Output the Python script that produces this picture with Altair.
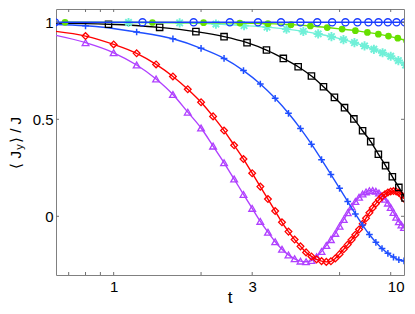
import altair as alt
import pandas as pd

# ---------------- data ----------------
# blue circles (t step ~ pi/5)
circ_t = [0.628, 1.257, 1.885, 2.513, 3.142, 3.770, 4.398, 5.027, 5.655, 6.283,
          6.912, 7.540, 8.168, 8.796, 9.425, 10.053]
circ_y = [1.000, 1.000, 1.000, 1.000, 1.000, 1.000, 1.000, 1.000, 1.000, 1.000,
          1.000, 1.000, 1.000, 1.000, 1.000, 1.000]

# green dots
dot_t = [0.68, 1.36, 2.04, 2.72, 3.40, 4.08, 4.76, 5.44, 6.12, 6.80, 7.48, 8.16,
         8.84, 9.52, 10.20]
dot_y = [1.000, 0.999, 0.998, 0.996, 0.993, 0.988, 0.981, 0.973, 0.965, 0.957,
         0.948, 0.939, 0.929, 0.918, 0.905]

# cyan stars
star_t = [0.5625, 1.125, 1.6875, 2.25, 2.8125, 3.375, 3.9375, 4.5, 5.0625, 5.625,
          6.1875, 6.75, 7.3125, 7.875, 8.4375, 9.0, 9.5625, 10.125]
star_y = [1.000, 0.999, 0.997, 0.991, 0.983, 0.975, 0.965, 0.953, 0.940, 0.926,
          0.911, 0.895, 0.878, 0.861, 0.843, 0.825, 0.803, 0.780]

# black squares
sq_t = [0.48, 0.96, 1.44, 1.92, 2.40, 2.88, 3.36, 3.84, 4.32, 4.80, 5.28, 5.76,
        6.24, 6.72, 7.20, 7.68, 8.16, 8.64, 9.12, 9.60, 10.08]
sq_y = [0.998, 0.990, 0.974, 0.952, 0.926, 0.895, 0.857, 0.814, 0.771, 0.723,
        0.668, 0.613, 0.560, 0.502, 0.441, 0.385, 0.320, 0.261, 0.204, 0.149, 0.095]

# blue plus
plus_t = [0.4, 0.8, 1.2, 1.6, 2.0, 2.4, 2.8, 3.2, 3.6, 4.0, 4.4, 4.8, 5.2, 5.6,
          6.0, 6.4, 6.8, 7.2, 7.6, 8.0, 8.4, 8.8, 9.2, 9.6, 10.0]
plus_y = [0.995, 0.982, 0.950, 0.915, 0.866, 0.814, 0.751, 0.682, 0.608, 0.531,
          0.452, 0.372, 0.292, 0.216, 0.144, 0.076, 0.012, -0.045, -0.094, -0.134,
          -0.166, -0.191, -0.210, -0.224, -0.230]

# red diamonds
dia_t = [0.6, 0.8, 1.0, 1.2, 1.4, 1.6, 1.8, 2.0, 2.2, 2.4, 2.6, 2.8, 3.0, 3.2,
         3.4, 3.6, 3.8, 4.0, 4.2, 4.4, 4.6, 4.8, 5.0, 5.2, 5.4, 5.6, 5.8, 6.0,
         6.2, 6.4, 6.6, 6.8, 7.0, 7.2, 7.4, 7.6, 7.8, 8.0, 8.2, 8.4, 8.6, 8.8,
         9.0, 9.2, 9.4, 9.6, 9.8, 10.0]
dia_y = [0.957, 0.929, 0.886, 0.840, 0.783, 0.721, 0.655, 0.588, 0.515, 0.442,
         0.366, 0.295, 0.222, 0.153, 0.089, 0.027, -0.031, -0.079, -0.120, -0.155,
         -0.186, -0.207, -0.222, -0.231, -0.235, -0.232, -0.217, -0.195, -0.170,
         -0.146, -0.121, -0.095, -0.068, -0.039, -0.010, 0.018, 0.043, 0.065,
         0.085, 0.102, 0.114, 0.123, 0.128, 0.130, 0.128, 0.122, 0.110, 0.090]

# purple triangles
tri_t = dia_t
tri_y = [0.940, 0.895, 0.843, 0.780, 0.708, 0.628, 0.537, 0.455, 0.362, 0.276,
         0.192, 0.113, 0.041, -0.026, -0.082, -0.131, -0.170, -0.199, -0.219,
         -0.231, -0.234, -0.228, -0.208, -0.181, -0.150, -0.120, -0.088, -0.051,
         -0.016, 0.018, 0.049, 0.076, 0.098, 0.115, 0.126, 0.132, 0.133, 0.129,
         0.120, 0.106, 0.088, 0.068, 0.045, 0.020, -0.005, -0.028, -0.045, -0.058]

x_ticks = [0.7, 0.8, 0.9, 1, 2, 3, 6, 9]
x_labels = [1, 3, 10]
y_ticks = [0, 0.5, 1]

# ---------------- chart ----------------
W, H = 348, 266
FONT = "Liberation Sans"
PLUS = "M-1,0L1,0M0,-1L0,1"
STAR = "M-1,0L1,0M0,-1L0,1M-0.7,-0.7L0.7,0.7M-0.7,0.7L0.7,-0.7"

xs = alt.Scale(type="log", domain=[0.633, 10], nice=False)
ys = alt.Scale(domain=[-0.3026, 1.0686], nice=False, zero=False)
X = alt.X("t:Q", scale=xs,
          axis=alt.Axis(values=x_labels, format="d", title="", labelPadding=4))
Y = alt.Y("y:Q", scale=ys,
          axis=alt.Axis(values=y_ticks, format="~g", title="", labelPadding=3))

series = [
    (tri_t, tri_y, "#b040ff", "triangle-up", False, 45, 1.3),
    (dia_t, dia_y, "#ff0000", "diamond", False, 45, 1.3),
    (plus_t, plus_y, "#1f4fff", PLUS, False, 45, 1.5),
    (sq_t, sq_y, "#000000", "square", False, 40, 1.3),
    (star_t, star_y, "#70f0d8", STAR, False, 85, 1.9),
    (dot_t, dot_y, "#66e000", "circle", True, 45, 1.0),
    (circ_t, circ_y, "#1a3cff", "circle", False, 50, 1.3),
]

layers = []
for t, y, col, shp, fill, size, sw in series:
    df = pd.DataFrame({"t": t, "y": y})
    base = alt.Chart(df)
    layers.append(base.mark_line(color=col, strokeWidth=1.4, clip=True,
                                 interpolate="monotone").encode(x=X, y=Y))
    if fill:
        pt = base.mark_point(shape=shp, filled=True, color=col, size=size,
                             opacity=1, clip=True)
    else:
        pt = base.mark_point(shape=shp, filled=False, color=col, size=size,
                             strokeWidth=sw, opacity=1, clip=True)
    layers.append(pt.encode(x=X, y=Y))

# inner tick marks (MATLAB style)
xt = pd.DataFrame({"t": x_ticks})
yt = pd.DataFrame({"y": y_ticks})
tick_col = "#707070"
layers.append(alt.Chart(xt).mark_rule(color=tick_col).encode(
    x="t:Q", y=alt.value(H), y2=alt.value(H - 3)))
layers.append(alt.Chart(xt).mark_rule(color=tick_col).encode(
    x="t:Q", y=alt.value(0), y2=alt.value(3)))
layers.append(alt.Chart(yt).mark_rule(color=tick_col).encode(
    y="y:Q", x=alt.value(0), x2=alt.value(3)))
layers.append(alt.Chart(yt).mark_rule(color=tick_col).encode(
    y="y:Q", x=alt.value(W), x2=alt.value(W - 3)))

one = pd.DataFrame({"a": [0]})
# x title
layers.append(alt.Chart(one).mark_text(text="t", align="center",
                                       baseline="alphabetic", fontSize=17,
                                       font=FONT, color="black").encode(
    x=alt.value(W / 2), y=alt.value(H + 28)))

# y title  < J_y > / J  (rotated, with subscript)
TX = -40
layers.append(alt.Chart(one).mark_text(text="⟨ J", angle=270, align="right",
                                       baseline="middle", fontSize=15, font=FONT,
                                       color="black").encode(
    x=alt.value(TX), y=alt.value(142)))
layers.append(alt.Chart(one).mark_text(text="y", angle=270, align="center",
                                       baseline="middle", fontSize=11, font=FONT,
                                       color="black").encode(
    x=alt.value(TX + 4), y=alt.value(138)))
layers.append(alt.Chart(one).mark_text(text="⟩ / J", angle=270, align="left",
                                       baseline="middle", fontSize=15, font=FONT,
                                       color="black").encode(
    x=alt.value(TX), y=alt.value(134)))

chart = alt.layer(*layers).properties(
    width=W, height=H,
    padding={"left": 48, "top": 1, "right": 3, "bottom": 31},
    autosize=alt.AutoSizeParams(type="none"),
).configure_view(stroke="#808080", strokeWidth=1).configure_axis(
    domain=False, ticks=False, grid=False, labelFont=FONT, titleFont=FONT,
    labelFontSize=15, labelColor="black", titleColor="black"
)

chart.save("out.html", embed_options={"renderer": "svg", "actions": False})
